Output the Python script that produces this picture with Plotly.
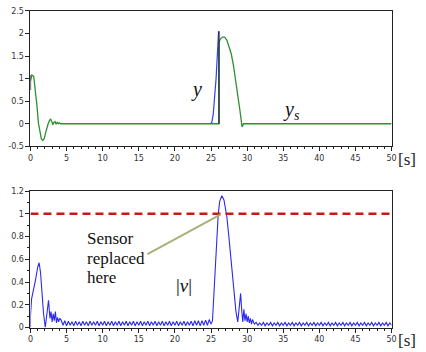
import plotly.graph_objects as go

# ---------------- data ----------------
# top panel: sensor output y_s (green)
ys_t = [0, 0.2, 0.45, 0.7, 0.9, 1.1, 1.3, 1.5, 1.7, 1.9, 2.1, 2.3, 2.45, 2.65, 2.8, 2.95,
        3.1, 3.25, 3.4, 3.55, 3.7, 3.85, 4.0, 4.2, 26.1, 26.1, 26.3, 26.6, 26.9, 27.2,
        27.5, 27.8, 28.1, 28.4, 28.7, 29.0, 29.3, 29.5, 50]
ys_v = [0.95, 1.08, 1.05, 0.75, 0.4, 0.02, -0.2, -0.33, -0.37, -0.33, -0.2, -0.06, 0.0, 0.08, 0.1, 0.05,
        -0.02, 0.03, 0.05, -0.01, 0.03, 0.0, 0.02, 0.0, 0.0, 1.8, 1.88, 1.92, 1.92, 1.85,
        1.72, 1.55, 1.3, 1.0, 0.65, 0.3, -0.07, 0.0, 0.0]

# top panel: process output y (blue), visible where it departs from y_s
y_t = [24.9, 25.1, 25.3, 25.5, 25.7, 25.9, 26.05]
y_v = [0.0, 0.03, 0.2, 0.55, 1.0, 1.6, 2.05]

# dark vertical jumps
jump_t = [0, 0, None, 26.1, 26.1]
jump_v = [0.75, 1.08, None, 0.0, 2.05]

# bottom panel: |v| (blue)
v_head_t = [0, 0, 0.15, 0.4, 0.7, 1.0, 1.2, 1.4, 1.6, 1.8, 2.05, 2.3, 2.5, 2.7, 2.85, 3.0,
            3.15, 3.3, 3.45, 3.6, 3.75, 3.9, 4.05]
v_head_v = [0.0, 0.1, 0.25, 0.32, 0.42, 0.53, 0.57, 0.48, 0.3, 0.13, 0.0, 0.12, 0.24, 0.08, 0.14, 0.05,
            0.12, 0.06, 0.14, 0.04, 0.09, 0.05, 0.08]

v_rip1_t = [4.25, 4.5, 4.75, 5, 5.25, 5.5, 5.75, 6, 6.25, 6.5, 6.75, 7, 7.25, 7.5, 7.75, 8,
            8.25, 8.5, 8.75, 9, 9.25, 9.5, 9.75, 10, 10.25, 10.5, 10.75, 11, 11.25, 11.5, 11.75, 12,
            12.25, 12.5, 12.75, 13, 13.25, 13.5, 13.75, 14, 14.25, 14.5, 14.75, 15, 15.25, 15.5, 15.75, 16,
            16.25, 16.5, 16.75, 17, 17.25, 17.5, 17.75, 18, 18.25, 18.5, 18.75, 19, 19.25, 19.5, 19.75, 20,
            20.25, 20.5, 20.75, 21, 21.25, 21.5, 21.75, 22, 22.25, 22.5, 22.75, 23, 23.25, 23.5, 23.75, 24,
            24.25, 24.5, 24.75, 25]
v_rip1_v = [0.065, 0.02, 0.06, 0.015, 0.055, 0.02, 0.05, 0.015, 0.055, 0.02,
            0.05, 0.015, 0.055, 0.02, 0.05, 0.015, 0.055, 0.02, 0.05, 0.02,
            0.055, 0.015, 0.05, 0.02, 0.055, 0.015, 0.05, 0.02, 0.055, 0.015,
            0.05, 0.02, 0.055, 0.015, 0.05, 0.02, 0.055, 0.015, 0.05, 0.02,
            0.055, 0.015, 0.05, 0.02, 0.055, 0.015, 0.05, 0.02, 0.055, 0.015,
            0.05, 0.02, 0.055, 0.015, 0.05, 0.02, 0.055, 0.015, 0.05, 0.02,
            0.055, 0.015, 0.05, 0.02, 0.055, 0.015, 0.05, 0.02, 0.055, 0.015,
            0.05, 0.02, 0.055, 0.015, 0.06, 0.02, 0.06, 0.015, 0.06, 0.02,
            0.065, 0.02, 0.07, 0.03]

v_peak_t = [25.2, 25.4, 25.6, 25.8, 26.0, 26.2, 26.5, 26.8, 27.0, 27.2, 27.5, 27.9, 28.2, 28.45,
            28.7, 28.9, 29.1, 29.25, 29.4, 29.55, 29.7, 29.85, 30.0, 30.15, 30.3, 30.45, 30.6,
            30.75, 31.0]
v_peak_v = [0.06, 0.3, 0.59, 0.82, 1.0, 1.11, 1.16, 1.12, 1.05, 0.97, 0.78, 0.52, 0.3, 0.14,
            0.05, 0.2, 0.3, 0.15, 0.05, 0.16, 0.06, 0.12, 0.05, 0.1, 0.04, 0.08, 0.03,
            0.07, 0.03]

v_rip2_t = [31.25, 31.5, 31.75, 32, 32.25, 32.5, 32.75, 33, 33.25, 33.5, 33.75, 34, 34.25, 34.5, 34.75, 35,
            35.25, 35.5, 35.75, 36, 36.25, 36.5, 36.75, 37, 37.25, 37.5, 37.75, 38, 38.25, 38.5, 38.75, 39,
            39.25, 39.5, 39.75, 40, 40.25, 40.5, 40.75, 41, 41.25, 41.5, 41.75, 42, 42.25, 42.5, 42.75, 43,
            43.25, 43.5, 43.75, 44, 44.25, 44.5, 44.75, 45, 45.25, 45.5, 45.75, 46, 46.25, 46.5, 46.75, 47,
            47.25, 47.5, 47.75, 48, 48.25, 48.5, 48.75, 49, 49.25, 49.5, 49.75, 50]
v_rip2_v = [0.045, 0.02, 0.04, 0.02, 0.045, 0.015, 0.04, 0.02, 0.045, 0.015, 0.04, 0.02, 0.045, 0.015, 0.04, 0.02,
            0.045, 0.015, 0.04, 0.02, 0.045, 0.015, 0.04, 0.02, 0.045, 0.015, 0.04, 0.02, 0.045, 0.015, 0.04, 0.02,
            0.045, 0.015, 0.04, 0.02, 0.045, 0.015, 0.04, 0.02, 0.045, 0.015, 0.04, 0.02, 0.045, 0.015, 0.04, 0.02,
            0.045, 0.015, 0.04, 0.02, 0.045, 0.015, 0.04, 0.02, 0.045, 0.015, 0.04, 0.02, 0.045, 0.015, 0.04, 0.02,
            0.045, 0.015, 0.04, 0.02, 0.045, 0.015, 0.04, 0.02, 0.045, 0.015, 0.04, 0.02]

v_t = v_head_t + v_rip1_t + v_peak_t + v_rip2_t
v_v = v_head_v + v_rip1_v + v_peak_v + v_rip2_v

threshold = 1.0
x_ticks = [0, 5, 10, 15, 20, 25, 30, 35, 40, 45, 50]
y1_ticks = [-0.5, 0, 0.5, 1, 1.5, 2, 2.5]
y1_text = ["-0.5", "0", "0.5", "1", "1.5", "2", "2.5"]
y2_ticks = [0, 0.2, 0.4, 0.6, 0.8, 1, 1.2]
y2_text = ["0", "0.2", "0.4", "0.6", "0.8", "1", "1.2"]

# arrow from annotation to the threshold crossing
arrow_start = (16.2, 0.645)
arrow_end = (26.35, 0.995)

# ---------------- figure ----------------
GREEN = "#2f8f2f"
BLUE = "#2a2af0"
fig = go.Figure()

fig.add_trace(go.Scatter(x=y_t, y=y_v, mode="lines", line=dict(color="#3a3af5", width=1.2),
                         xaxis="x", yaxis="y", hoverinfo="skip"))
fig.add_trace(go.Scatter(x=ys_t, y=ys_v, mode="lines", line=dict(color=GREEN, width=1.3),
                         xaxis="x", yaxis="y", hoverinfo="skip"))
fig.add_trace(go.Scatter(x=jump_t, y=jump_v, mode="lines", line=dict(color="#1c2440", width=1.3),
                         xaxis="x", yaxis="y", hoverinfo="skip", connectgaps=False))

fig.add_trace(go.Scatter(x=v_t, y=v_v, mode="lines", line=dict(color=BLUE, width=1.1),
                         xaxis="x2", yaxis="y2", hoverinfo="skip"))
fig.add_trace(go.Scatter(x=[0, 50], y=[threshold, threshold], mode="lines",
                         line=dict(color="#d21414", width=2.5, dash="8px,5px"),
                         xaxis="x2", yaxis="y2", hoverinfo="skip"))

tickfont = dict(family="DejaVu Sans", size=8, color="#333")
common_x = dict(range=[0, 50], tickvals=x_ticks, ticktext=[str(v) for v in x_ticks],
                showline=True, linecolor="#222", linewidth=1, mirror=True,
                ticks="outside", ticklen=4, tickcolor="#222", tickfont=tickfont,
                showgrid=False, zeroline=False, fixedrange=True,
                minor=dict(dtick=1, ticks="outside", ticklen=2, tickcolor="#222", showgrid=False))
common_y = dict(showline=True, linecolor="#222", linewidth=1, mirror=True,
                ticks="outside", ticklen=4, tickcolor="#222", tickfont=tickfont,
                showgrid=False, zeroline=False, fixedrange=True)

fig.update_layout(
    width=426, height=352, margin=dict(l=0, r=0, t=0, b=0),
    paper_bgcolor="white", plot_bgcolor="white", showlegend=False,
    xaxis=dict(domain=[0.0657, 0.9296], anchor="y", **common_x),
    yaxis=dict(domain=[0.585, 0.980], anchor="x", range=[-0.5, 2.5],
               tickvals=y1_ticks, ticktext=y1_text, **common_y),
    xaxis2=dict(domain=[0.0657, 0.9296], anchor="y2", **common_x),
    yaxis2=dict(domain=[0.0568, 0.4545], anchor="x2", range=[0, 1.2],
                tickvals=y2_ticks, ticktext=y2_text,
                minor=dict(dtick=0.1, ticks="outside", ticklen=2, tickcolor="#222", showgrid=False),
                **common_y),
)

fig.add_shape(type="line", xref="x2", yref="y2",
              x0=arrow_start[0], y0=arrow_start[1], x1=arrow_end[0], y1=arrow_end[1],
              line=dict(color="#a9b078", width=2))

serif = "Liberation Serif"
for i, line in enumerate(["Sensor", "replaced", "here"]):
    fig.add_annotation(text=line, xref="x2", yref="y2", x=7.6, y=0.78 - i * 0.172,
                       xanchor="left", yanchor="middle", showarrow=False,
                       font=dict(family=serif, size=17, color="#111"))

fig.add_annotation(text="|<i>v</i>|", xref="x2", yref="y2", x=21.3, y=0.37,
                   xanchor="center", yanchor="middle",
                   showarrow=False, font=dict(family=serif, size=19, color="#111"))
fig.add_annotation(text="<i>y</i>", xref="x", yref="y", x=23.0, y=0.76,
                   xanchor="center", yanchor="middle",
                   showarrow=False, font=dict(family=serif, size=20, color="#111"))
fig.add_annotation(text="<i>y<sub>s</sub></i>", xref="x", yref="y", x=36.1, y=0.3,
                   xanchor="center", yanchor="middle",
                   showarrow=False, font=dict(family=serif, size=20, color="#111"))
for yy in [0.548, 0.018]:
    fig.add_annotation(text="[s]", xref="paper", yref="paper", x=0.966, y=yy,
                       xanchor="center", yanchor="middle",
                       showarrow=False, font=dict(family=serif, size=17, color="#222"))

fig.write_html("out.html")
